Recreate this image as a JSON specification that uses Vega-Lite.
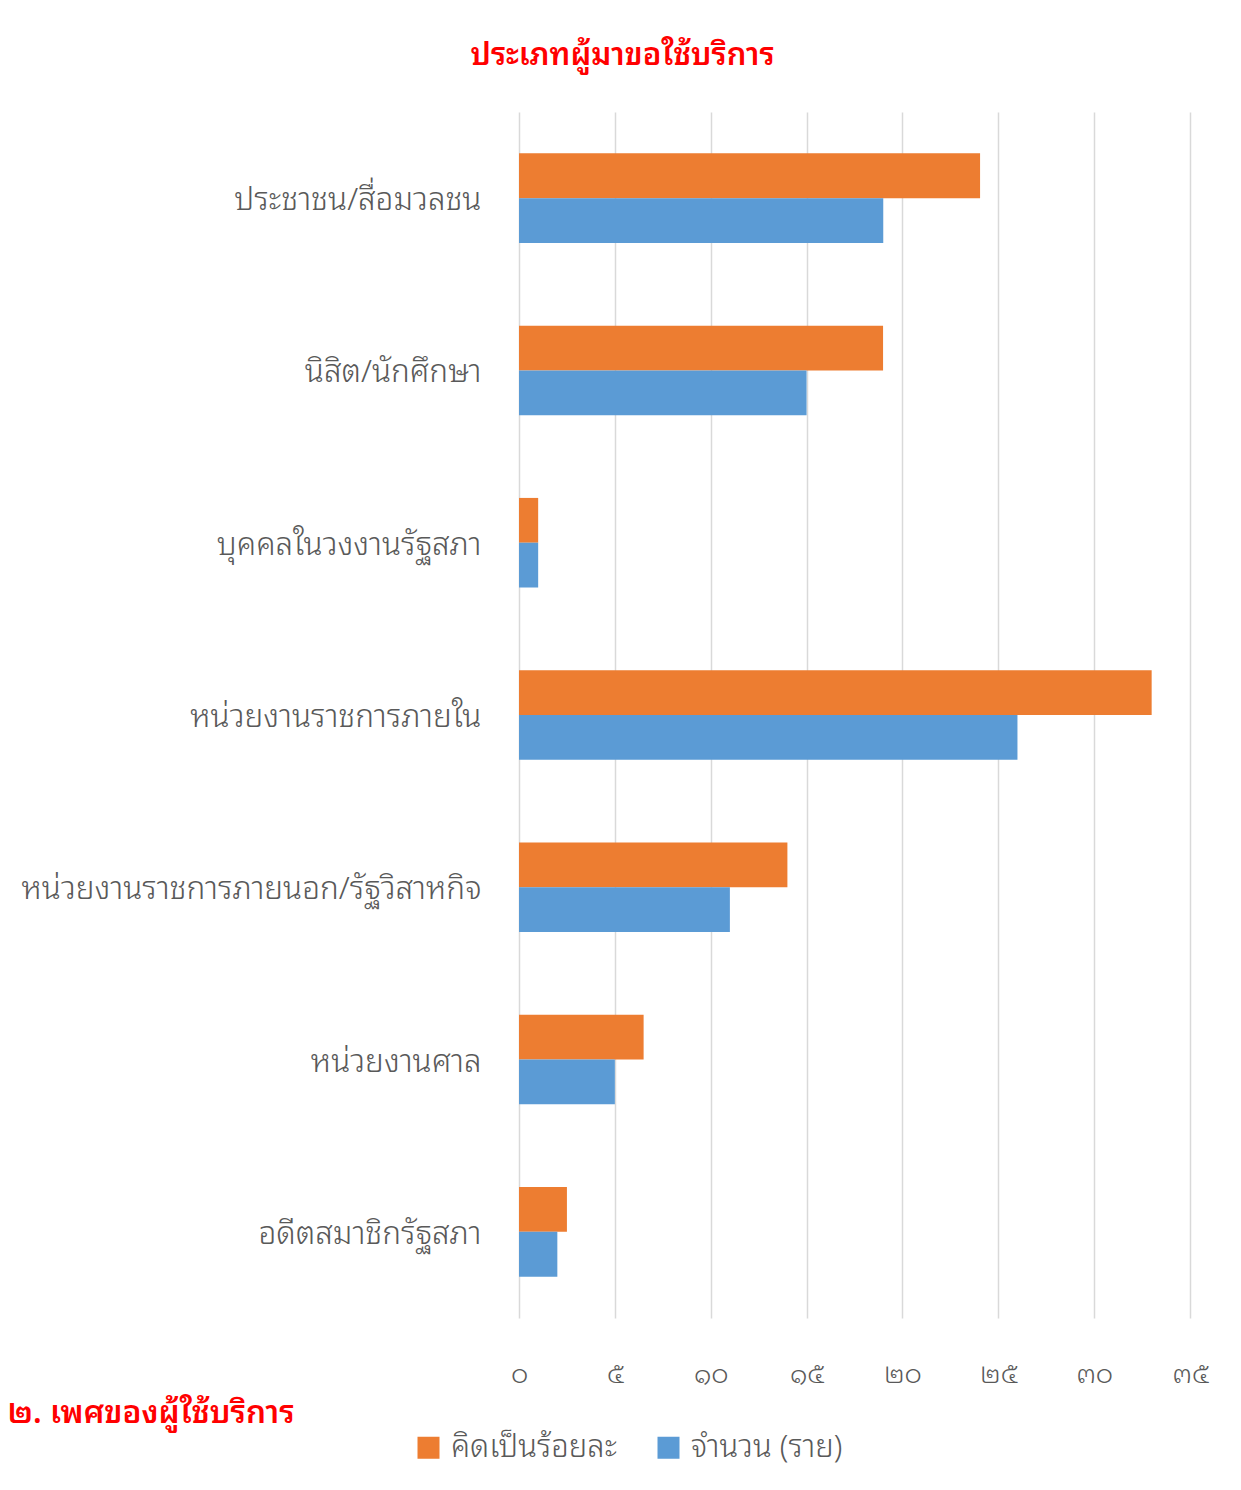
{
  "$schema": "https://vega.github.io/schema/vega-lite/v6.json",
  "autosize": "none",
  "width": 671,
  "height": 1206,
  "padding": {"left": 519, "top": 112, "right": 51, "bottom": 172},
  "background": "white",
  "title": {
    "text": "ประเภทผู้มาขอใช้บริการ",
    "color": "#FF0000",
    "fontSize": 31,
    "fontWeight": 600,
    "font": "Noto Sans Thai Looped, Noto Serif Thai, Tahoma, sans-serif",
    "anchor": "middle",
    "dx": -232,
    "offset": 40
  },
  "data": {
    "values": [
      {"category": "ประชาชน/สื่อมวลชน", "series": "คิดเป็นร้อยละ", "value": 24.05},
      {"category": "ประชาชน/สื่อมวลชน", "series": "จำนวน (ราย)", "value": 19},
      {"category": "นิสิต/นักศึกษา", "series": "คิดเป็นร้อยละ", "value": 18.99},
      {"category": "นิสิต/นักศึกษา", "series": "จำนวน (ราย)", "value": 15},
      {"category": "บุคคลในวงงานรัฐสภา", "series": "คิดเป็นร้อยละ", "value": 1.0},
      {"category": "บุคคลในวงงานรัฐสภา", "series": "จำนวน (ราย)", "value": 1},
      {"category": "หน่วยงานราชการภายใน", "series": "คิดเป็นร้อยละ", "value": 33.0},
      {"category": "หน่วยงานราชการภายใน", "series": "จำนวน (ราย)", "value": 26},
      {"category": "หน่วยงานราชการภายนอก/รัฐวิสาหกิจ", "series": "คิดเป็นร้อยละ", "value": 14.0},
      {"category": "หน่วยงานราชการภายนอก/รัฐวิสาหกิจ", "series": "จำนวน (ราย)", "value": 11},
      {"category": "หน่วยงานศาล", "series": "คิดเป็นร้อยละ", "value": 6.5},
      {"category": "หน่วยงานศาล", "series": "จำนวน (ราย)", "value": 5},
      {"category": "อดีตสมาชิกรัฐสภา", "series": "คิดเป็นร้อยละ", "value": 2.5},
      {"category": "อดีตสมาชิกรัฐสภา", "series": "จำนวน (ราย)", "value": 2}
    ]
  },
  "mark": {"type": "bar"},
  "encoding": {
    "y": {
      "field": "category",
      "type": "nominal",
      "sort": null,
      "scale": {"paddingInner": 0.48, "paddingOuter": 0.24},
      "axis": {
        "title": null,
        "domain": false,
        "ticks": false,
        "grid": false,
        "labelFontSize": 31.5,
        "labelFontWeight": 300,
        "labelColor": "#595959",
        "labelPadding": 38,
        "labelOffset": 3,
        "labelLimit": 600,
        "labelFont": "Noto Sans Thai Looped, Noto Serif Thai, Tahoma, sans-serif"
      }
    },
    "yOffset": {
      "field": "series",
      "type": "nominal",
      "sort": ["คิดเป็นร้อยละ", "จำนวน (ราย)"],
      "scale": {"paddingInner": 0, "paddingOuter": 0}
    },
    "x": {
      "field": "value",
      "type": "quantitative",
      "scale": {"domain": [0, 35], "nice": false},
      "axis": {
        "values": [0, 5, 10, 15, 20, 25, 30, 35],
        "labelExpr": "datum.value == 0 ? '๐' : datum.value == 5 ? '๕' : datum.value == 10 ? '๑๐' : datum.value == 15 ? '๑๕' : datum.value == 20 ? '๒๐' : datum.value == 25 ? '๒๕' : datum.value == 30 ? '๓๐' : '๓๕'",
        "domain": false,
        "ticks": false,
        "grid": true,
        "gridColor": "#D9D9D9",
        "gridWidth": 1.5,
        "labelFontSize": 27,
        "labelFontWeight": 300,
        "labelColor": "#595959",
        "labelPadding": 43,
        "labelFlush": false,
        "labelOverlap": false,
        "labelFont": "Noto Sans Thai Looped, Noto Serif Thai, Tahoma, sans-serif",
        "title": "๒. เพศของผู้ใช้บริการ",
        "titleColor": "#FF0000",
        "titleFontSize": 31.5,
        "titleFontWeight": 600,
        "titleFont": "Noto Sans Thai Looped, Noto Serif Thai, Tahoma, sans-serif",
        "titleAnchor": "start",
        "titleAlign": "left",
        "titleBaseline": "middle",
        "titleX": -512,
        "titleY": 95
      }
    },
    "color": {
      "field": "series",
      "type": "nominal",
      "sort": ["คิดเป็นร้อยละ", "จำนวน (ราย)"],
      "scale": {"domain": ["คิดเป็นร้อยละ", "จำนวน (ราย)"], "range": ["#ED7D31", "#5B9BD5"]},
      "legend": {
        "title": null,
        "orient": "none",
        "direction": "horizontal",
        "legendX": -106,
        "legendY": 1320,
        "symbolType": "square",
        "symbolSize": 484,
        "symbolStrokeWidth": 0,
        "labelFontSize": 31,
        "labelFontWeight": 300,
        "labelColor": "#595959",
        "labelFont": "Noto Sans Thai Looped, Noto Serif Thai, Tahoma, sans-serif",
        "columnPadding": 36,
        "labelOffset": 7,
        "labelLimit": 400
      }
    }
  },
  "config": {"view": {"stroke": null}}
}
